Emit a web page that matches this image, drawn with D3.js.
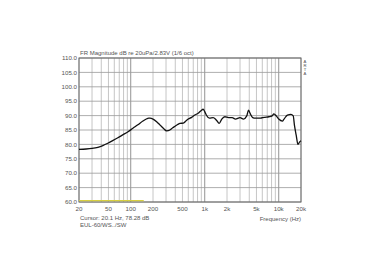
<!DOCTYPE html>
<html>
<head>
<meta charset="utf-8">
<script src="https://cdn.jsdelivr.net/npm/d3@7"></script>
<style>
  body { margin: 0; background: #fff; }
  svg { display: block; font-family: 'Liberation Sans', Arial, sans-serif; }
</style>
</head>
<body>
<svg width="380" height="272"></svg>
<script>
// frequency response (Hz, dB)
const freqs = [20, 25, 30, 36, 42, 49, 57, 67, 78, 92, 107, 125, 146, 165, 175, 182, 200, 224, 250, 276, 306, 338, 370, 397, 430, 465, 515, 560, 600, 664, 733, 814, 900, 950, 1000, 1050, 1160, 1300, 1430, 1570, 1700, 1870, 2100, 2350, 2600, 3000, 3340, 3700, 3900, 4100, 4450, 4840, 5660, 6300, 7360, 8150, 8600, 9250, 10000, 11200, 11800, 13100, 14600, 15700, 16300, 17200, 18200, 19200, 20000];
const levels = [78.3, 78.4, 78.6, 79.0, 79.6, 80.4, 81.3, 82.3, 83.3, 84.4, 85.6, 86.8, 88.1, 88.9, 89.1, 89.1, 88.8, 87.9, 86.7, 85.6, 84.7, 85.0, 85.8, 86.3, 86.9, 87.3, 87.4, 88.2, 88.8, 89.4, 90.2, 90.8, 91.8, 92.2, 91.4, 90.2, 89.1, 89.3, 88.5, 87.3, 88.8, 89.6, 89.3, 89.3, 88.8, 89.3, 88.8, 89.9, 91.9, 90.8, 89.3, 89.1, 89.1, 89.4, 89.6, 89.9, 90.6, 89.9, 88.8, 88.1, 88.8, 90.2, 90.4, 89.9, 86.7, 83.3, 80.0, 80.9, 81.3];
const yTicks = [60, 65, 70, 75, 80, 85, 90, 95, 100, 105, 110];
const xLabels = [20, 50, 100, 200, 500, 1000, 2000, 5000, 10000, 20000];
const xGrid = [20, 30, 40, 50, 60, 70, 80, 90, 100, 200, 300, 400, 500, 600, 700, 800, 900, 1000, 2000, 3000, 4000, 5000, 6000, 7000, 8000, 9000, 10000, 20000];
const majorGrid = [100, 1000, 10000];
const markerRange = [20, 150];
const markerLevel = 60.5;
const brand = ['A', 'R', 'T', 'A'];

const svg = d3.select('svg');
const pL = 79, pR = 301, pT = 58, pB = 202;

const x = d3.scaleLog().domain([20, 20000]).range([pL, pR]);
const y = d3.scaleLinear().domain([60, 110]).range([pB, pT]);

const fmtHz = d => d >= 1000 ? (d / 1000) + 'k' : String(d);

// grid
svg.append('g').selectAll('line')
    .data(xGrid)
    .join('line')
    .attr('x1', d => x(d)).attr('x2', d => x(d))
    .attr('y1', pT).attr('y2', pB)
    .attr('stroke', d => majorGrid.includes(d) ? '#777' : '#b8b8b8')
    .attr('stroke-width', 0.8);

svg.append('g').selectAll('line')
    .data(yTicks)
    .join('line')
    .attr('x1', pL).attr('x2', pR)
    .attr('y1', d => y(d)).attr('y2', d => y(d))
    .attr('stroke', '#999')
    .attr('stroke-width', 0.8);

svg.append('rect')
    .attr('x', pL).attr('y', pT)
    .attr('width', pR - pL).attr('height', pB - pT)
    .attr('fill', 'none')
    .attr('stroke', '#666')
    .attr('stroke-width', 1);

// yellow marker line
svg.append('line')
    .attr('x1', x(markerRange[0])).attr('x2', x(markerRange[1]))
    .attr('y1', y(markerLevel)).attr('y2', y(markerLevel))
    .attr('stroke', '#d8d040')
    .attr('stroke-width', 1.2);

// curve
const line = d3.line()
    .x((d, i) => x(freqs[i]))
    .y(d => y(d))
    .curve(d3.curveMonotoneX);

svg.append('path')
    .datum(levels)
    .attr('d', line)
    .attr('fill', 'none')
    .attr('stroke', '#111')
    .attr('stroke-width', 1.3);

// labels
const txt = '#555';
svg.append('g').selectAll('text')
    .data(yTicks)
    .join('text')
    .attr('x', pL - 2)
    .attr('y', d => y(d) + 2.2)
    .attr('text-anchor', 'end')
    .style('font-size', '6.2px')
    .style('fill', txt)
    .text(d => d.toFixed(1));

svg.append('g').selectAll('text')
    .data(xLabels)
    .join('text')
    .attr('x', d => x(d))
    .attr('y', 211)
    .attr('text-anchor', 'middle')
    .style('font-size', '6.2px')
    .style('fill', txt)
    .text(fmtHz);

svg.append('text')
    .attr('x', 80).attr('y', 55)
    .style('font-size', '6px')
    .style('fill', txt)
    .text('FR Magnitude dB re 20uPa/2.83V (1/6 oct)');

svg.append('g').selectAll('text')
    .data(brand)
    .join('text')
    .attr('x', 305)
    .attr('y', (d, i) => 62.5 + i * 4.2)
    .attr('text-anchor', 'middle')
    .style('font-size', '4.2px')
    .style('fill', txt)
    .text(d => d);

svg.append('text')
    .attr('x', 80).attr('y', 219.5)
    .style('font-size', '6px')
    .style('fill', txt)
    .text('Cursor: 20.1 Hz, 78.28 dB');

svg.append('text')
    .attr('x', 80).attr('y', 227)
    .style('font-size', '6px')
    .style('fill', txt)
    .text('EUL-60/WS../SW');

svg.append('text')
    .attr('x', pR).attr('y', 220.5)
    .attr('text-anchor', 'end')
    .style('font-size', '6px')
    .style('fill', txt)
    .text('Frequency (Hz)');
</script>
</body>
</html>
